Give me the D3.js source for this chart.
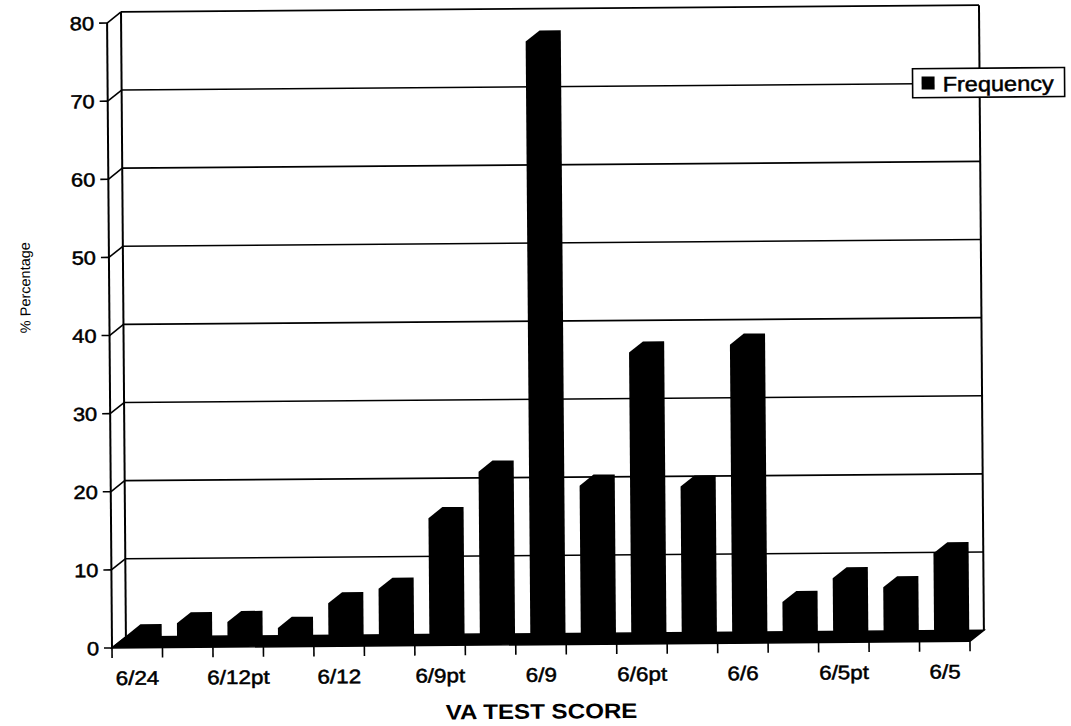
<!DOCTYPE html>
<html>
<head>
<meta charset="utf-8">
<script src="https://cdn.jsdelivr.net/npm/d3@7/dist/d3.min.js"></script>
<style>
  body { margin: 0; background: #fff; }
  svg { display: block; }
  text { font-family: "Liberation Sans", Arial, sans-serif; fill: #000; }
  .heavy { stroke: #000; stroke-width: 0.5px; }
</style>
</head>
<body>
<svg id="chart" width="1071" height="726"></svg>
<script>
// data
const tickLabels = ["6/24", "", "6/12pt", "", "6/12", "", "6/9pt", "", "6/9", "", "6/6pt", "", "6/6", "", "6/5pt", "", "6/5"];
const frequency = [1.6, 3.1, 3.2, 2.4, 5.5, 7.3, 16.3, 22.2, 77.2, 20.3, 37.3, 20.1, 38.2, 5.2, 8.2, 7.0, 11.3];
const yTicks = [0, 10, 20, 30, 40, 50, 60, 70, 80];
const seriesName = "Frequency";
const xTitle = "VA TEST SCORE";
const yTitle = "% Percentage";

// layout
const plotLeft = 112, plotRight = 970, plotBottom = 648, plotTop = 23;
const dx = 14, dy = 11;      // 3d depth offset
const tilt = -0.45;          // the scan is slightly rotated
const stretch = 1.15;        // text in the scan is a bit wide

const svg = d3.select('#chart');
const g = svg.append('g').attr('transform', `rotate(${tilt},${plotLeft},${plotBottom})`);

const x = d3.scaleBand().domain(d3.range(frequency.length)).range([plotLeft, plotRight]);
const y = d3.scaleLinear().domain([0, 80]).range([plotBottom, plotTop]);
const barW = x.bandwidth() * 0.42;

function wideText(sel, tx, ty, sx) {
  return sel.attr('transform', `translate(${tx},${ty}) scale(${sx},1)`);
}

// back wall gridlines
g.append('g')
  .selectAll('line')
  .data(yTicks.slice(1))
  .enter()
  .append('line')
  .attr('x1', plotLeft + dx).attr('x2', plotRight + dx)
  .attr('y1', d => y(d) - dy).attr('y2', d => y(d) - dy)
  .attr('stroke', '#000').attr('stroke-width', 1.6);

// side wall connectors
g.append('g')
  .selectAll('line')
  .data(yTicks)
  .enter()
  .append('line')
  .attr('x1', plotLeft).attr('y1', d => y(d))
  .attr('x2', plotLeft + dx).attr('y2', d => y(d) - dy)
  .attr('stroke', '#000').attr('stroke-width', 1.6);

// wall edges
[[plotLeft + dx, y(0) - dy, plotLeft + dx, y(80) - dy],
 [plotRight + dx, y(0) - dy, plotRight + dx, y(80) - dy],
 [plotLeft, y(0), plotLeft, y(80)]].forEach(p => {
  g.append('line')
    .attr('x1', p[0]).attr('y1', p[1]).attr('x2', p[2]).attr('y2', p[3])
    .attr('stroke', '#000').attr('stroke-width', 2);
});

// floor
g.append('path')
  .attr('d', `M${plotLeft},${plotBottom}L${plotRight},${plotBottom}L${plotRight + dx},${plotBottom - dy}L${plotLeft + dx},${plotBottom - dy}Z`)
  .attr('fill', '#000').attr('stroke', '#000').attr('stroke-width', 1.5);

// bars
g.append('g')
  .selectAll('path')
  .data(frequency)
  .enter()
  .append('path')
  .attr('d', (d, i) => {
    const x0 = x(i) + (x.bandwidth() - barW) / 2;
    const x1 = x0 + barW;
    const yv = y(d);
    return `M${x0},${plotBottom}L${x0},${yv}L${x0 + dx},${yv - dy}L${x1 + dx},${yv - dy}L${x1 + dx},${plotBottom - dy}L${x1},${plotBottom}Z`;
  })
  .attr('fill', '#000');

// y ticks + labels
const yAxis = g.append('g');
yAxis.selectAll('line')
  .data(yTicks)
  .enter()
  .append('line')
  .attr('x1', plotLeft - 8).attr('x2', plotLeft)
  .attr('y1', d => y(d)).attr('y2', d => y(d))
  .attr('stroke', '#000').attr('stroke-width', 1.6);
yAxis.selectAll('text')
  .data(yTicks)
  .enter()
  .append('text')
  .attr('class', 'heavy')
  .each(function(d) { wideText(d3.select(this), plotLeft - 13, y(d), stretch); })
  .attr('text-anchor', 'end')
  .attr('dominant-baseline', 'central')
  .attr('font-size', 19)
  .text(d => d);

// x ticks + labels
const xAxis = g.append('g');
xAxis.selectAll('line')
  .data(d3.range(frequency.length + 1))
  .enter()
  .append('line')
  .attr('x1', i => plotLeft + i * x.step()).attr('x2', i => plotLeft + i * x.step())
  .attr('y1', plotBottom).attr('y2', plotBottom + 10)
  .attr('stroke', '#000').attr('stroke-width', 1.6);
xAxis.selectAll('text')
  .data(tickLabels)
  .enter()
  .append('text')
  .attr('class', 'heavy')
  .each(function(d, i) { wideText(d3.select(this), x(i) + x.bandwidth() / 2, 685, stretch); })
  .attr('text-anchor', 'middle')
  .attr('font-size', 19.5)
  .text(d => d);

// axis titles
wideText(g.append('text'), 541, 722, stretch)
  .attr('text-anchor', 'middle')
  .attr('font-size', 21)
  .attr('font-weight', 'bold')
  .text(xTitle);

g.append('text')
  .attr('transform', 'translate(28,287) rotate(-90)')
  .attr('text-anchor', 'middle')
  .attr('dominant-baseline', 'central')
  .attr('font-size', 14.5)
  .text(yTitle);

// legend
const legend = g.append('g').attr('transform', 'translate(917,75)');
legend.append('rect')
  .attr('width', 152).attr('height', 29)
  .attr('fill', '#fff').attr('stroke', '#000').attr('stroke-width', 1.6);
legend.append('rect')
  .attr('x', 9).attr('y', 8).attr('width', 13).attr('height', 13)
  .attr('fill', '#000');
wideText(legend.append('text'), 30, 23, 1.12)
  .attr('class', 'heavy')
  .attr('font-size', 21)
  .text(seriesName);
</script>
</body>
</html>
